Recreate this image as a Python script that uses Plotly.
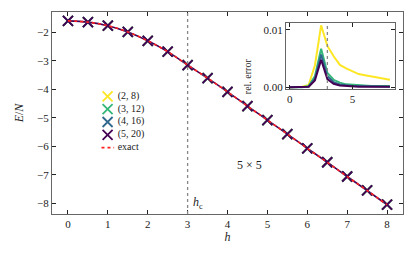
import plotly.graph_objects as go

h = [0, 0.5, 1, 1.5, 2, 2.5, 3, 3.5, 4, 4.5, 5, 5.5, 6, 6.5, 7, 7.5, 8]
energy = [-1.60, -1.645, -1.77, -1.99, -2.30, -2.68, -3.15, -3.61, -4.09, -4.59, -5.08,
          -5.57, -6.07, -6.56, -7.06, -7.55, -8.05]
err_2_8 = [0.0, 0.0, 0.0001, 0.0004, 0.0038, 0.0108, 0.0072, 0.0054, 0.0039, 0.0033, 0.0028,
           0.0023, 0.0021, 0.0019, 0.0017, 0.0015, 0.0013]
err_3_12 = [0.0, 0.0, 0.0, 0.0002, 0.0019, 0.0067, 0.0025, 0.0013, 0.0008, 0.0005, 0.0004,
            0.0003, 0.0003, 0.0002, 0.0002, 0.0002, 0.0002]
err_4_16 = [0.0, 0.0, 0.0, 0.0001, 0.0015, 0.0057, 0.0019, 0.0009, 0.0005, 0.0003, 0.0002,
            0.0002, 0.0002, 0.0001, 0.0001, 0.0001, 0.0001]
err_5_20 = [0.0, 0.0, 0.0, 0.0001, 0.0012, 0.0048, 0.0014, 0.0006, 0.0003, 0.0002, 0.0001,
            0.0001, 0.0001, 0.0001, 0.0001, 0.0001, 0.0001]
series_names = ["(2, 8)", "(3, 12)", "(4, 16)", "(5, 20)"]
series_colors = ["#fde725", "#35b779", "#31688e", "#440154"]
errors = [err_2_8, err_3_12, err_4_16, err_5_20]
h_c = 3

FONT = "Liberation Serif"
EXACT_COLOR = "#ff2020"

fig = go.Figure()

# main panel
fig.add_trace(go.Scatter(x=h, y=energy, mode="lines", line=dict(color="#440154", width=1.6, shape="spline"),
                         showlegend=False, xaxis="x", yaxis="y"))
for name, col in zip(series_names, series_colors):
    fig.add_trace(go.Scatter(x=h, y=energy, mode="markers", name=name, showlegend=False,
                             marker=dict(symbol="x-thin", size=10, line=dict(color=col, width=1.8)),
                             xaxis="x", yaxis="y"))
fig.add_trace(go.Scatter(x=h, y=energy, mode="lines", name="exact", showlegend=False,
                         line=dict(color=EXACT_COLOR, width=1.6, dash="dot", shape="spline"),
                         xaxis="x", yaxis="y"))

# inset
for name, col, err in zip(series_names, series_colors, errors):
    fig.add_trace(go.Scatter(x=h, y=err, mode="lines", line=dict(color=col, width=2),
                             showlegend=False, xaxis="x2", yaxis="y2"))

# compact legend drawn on its own hidden axis (rows indexed 0..4)
for i, (name, col) in enumerate(zip(series_names, series_colors)):
    fig.add_trace(go.Scatter(x=[0.167], y=[i], mode="markers", showlegend=False, hoverinfo="skip",
                             marker=dict(symbol="x-thin", size=10, line=dict(color=col, width=1.8)),
                             xaxis="x3", yaxis="y3"))
legend_labels = series_names + ["exact"]
fig.add_trace(go.Scatter(x=[0.31] * len(legend_labels), y=list(range(len(legend_labels))), mode="text",
                         text=legend_labels, textposition="middle right", showlegend=False,
                         hoverinfo="skip", textfont=dict(size=10, family=FONT, color="#222222"),
                         xaxis="x3", yaxis="y3"))
fig.add_trace(go.Scatter(x=[0.08, 0.26], y=[len(series_names)] * 2, mode="lines", showlegend=False,
                         hoverinfo="skip", line=dict(color=EXACT_COLOR, width=1.6, dash="dot"),
                         xaxis="x3", yaxis="y3"))

fig.add_shape(type="line", xref="x", yref="y domain", x0=h_c, x1=h_c, y0=0, y1=1,
              line=dict(color="#888888", width=1.3, dash="dot"))
fig.add_shape(type="line", xref="x2", yref="y2 domain", x0=h_c, x1=h_c, y0=0, y1=1,
              line=dict(color="#888888", width=1.3, dash="dot"))

axis_common = dict(showline=True, linecolor="#666666", linewidth=1.3, mirror="ticks",
                   ticks="inside", ticklen=4, tickwidth=1.2, tickcolor="#222222", automargin=False,
                   showgrid=False, zeroline=False, tickfont=dict(size=11, color="#222222", family=FONT))
hidden = dict(visible=False, showgrid=False, zeroline=False, fixedrange=True)

fig.update_layout(
    width=415, height=258,
    margin=dict(l=44, r=20, t=4, b=52, autoexpand=False),
    paper_bgcolor="white", plot_bgcolor="white",
    font=dict(family=FONT, color="#222222", size=11),
    showlegend=False,
    xaxis=dict(domain=[0, 1], range=[-0.4, 8.4], tickvals=[0, 1, 2, 3, 4, 5, 6, 7, 8],
               title=dict(text="<i>h</i>", standoff=2, font=dict(size=12)), **axis_common),
    yaxis=dict(domain=[0, 1], range=[-8.375, -1.29], tickvals=[-8, -7, -6, -5, -4, -3, -2],
               ticktext=["−8", "−7", "−6", "−5", "−4", "−3", "−2"],
               title=dict(text="<i>E</i>/<i>N</i>", standoff=10, font=dict(size=12)), **axis_common),
    xaxis2=dict(domain=[0.667, 0.977], anchor="y2", range=[-0.3, 8.4], tickvals=[0, 5], **axis_common),
    yaxis2=dict(domain=[0.619, 0.9455], anchor="x2", range=[-0.0003, 0.0112], tickvals=[0, 0.01],
                tickformat=".2f", **axis_common),
    xaxis3=dict(domain=[0.125, 0.325], anchor="y3", range=[0, 1], **hidden),
    yaxis3=dict(domain=[0.297, 0.614], anchor="x3", range=[4.5, -0.5], **hidden),
    annotations=[
        dict(text="rel. error", x=0.556, y=0.782, xref="paper", yref="paper", showarrow=False,
             textangle=-90, font=dict(size=10, family=FONT)),
        dict(text="5 × 5", x=4.55, y=-6.65, xref="x", yref="y", showarrow=False,
             font=dict(size=12, family=FONT)),
        dict(text="<i>h</i><sub>c</sub>", x=h_c, y=-8.0, xref="x", yref="y", showarrow=False,
             xanchor="left", xshift=3, font=dict(size=12, family=FONT)),
    ],
)

fig.write_html("out.html")
